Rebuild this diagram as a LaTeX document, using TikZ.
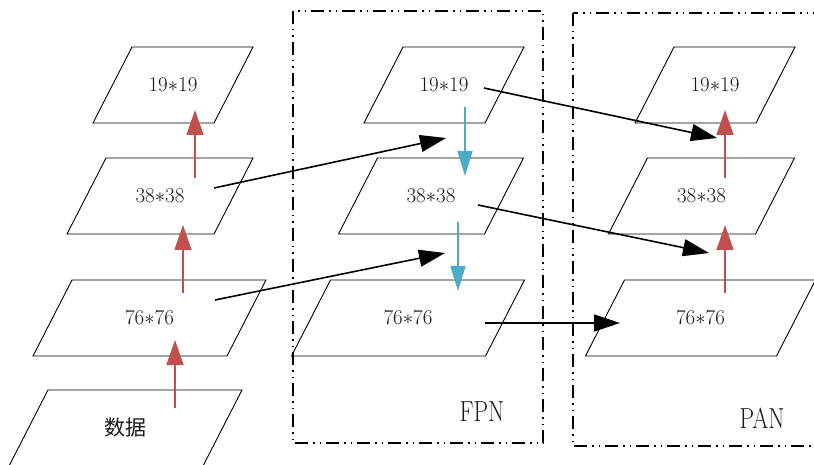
\documentclass[tikz,border=0pt]{standalone}
\usepackage{fontspec}
\usetikzlibrary{arrows.meta,calc}
\newfontfamily\cjk{Noto Sans CJK SC}
\definecolor{redarr}{HTML}{C0504D}
\definecolor{bluearr}{HTML}{4BACC6}
\tikzset{
  lbl/.style={inner sep=0pt,font=\fontsize{21}{24}\selectfont,text=black!90},
  plgline/.style={draw=black,line width=0.9pt},
  redc/.style={draw=redarr,line width=1.6pt,-{Triangle[length=25pt,width=17pt]}},
  bluec/.style={draw=bluearr,line width=1.6pt,-{Triangle[length=25pt,width=15pt]}},
  blackc/.style={draw=black,line width=1.6pt,-{Triangle[length=26pt,width=17pt]}},
  boxline/.style={draw=black,line width=1.5pt,dash pattern=on 13pt off 5pt on 1.5pt off 5pt on 1.5pt off 5pt},
  boxlbl/.style={inner sep=0pt,font=\fontsize{29}{32}\selectfont,text=black!90}
}
\newcommand\plg[5]{%
  \node[lbl] (#1) at (#2,#3) {#5};
  \draw[plgline] ($(#1)+(-#4/2+19.5,-38)$) -- ++(#4,0) -- ++(-39,76) -- ++(-#4,0) -- cycle;
}
\newcommand\mul{{$\ast$}}
\begin{document}
\begin{tikzpicture}[x=1pt,y=-1pt]
\useasboundingbox (0,0) rectangle (814,465);
% dashed boxes
\draw[boxline] (293,11) rectangle (543,443);
\draw[boxline] (573,13) rectangle (840,446);
\node[boxlbl] (fpn) at (482,412) {\scalebox{0.8}[1]{FPN}};
\node[boxlbl] (pan) at (762,418) {\scalebox{0.8}[1]{PAN}};
% left column
\plg{L4}{125.5}{428}{194}{\cjk 数据}
\plg{L3}{149.5}{318}{194}{76\mul76}
\plg{L2}{160}{196}{147}{38\mul38}
\plg{L1}{173}{85}{121}{19\mul19}
% FPN column
\plg{M1}{444}{85}{121}{19\mul19}
\plg{M2}{431}{196}{146}{38\mul38}
\plg{M3}{408}{318}{194}{76\mul76}
% PAN column
\plg{R1}{715}{85}{121}{19\mul19}
\plg{R2}{701.5}{196}{147}{38\mul38}
\plg{R3}{700.5}{318}{191}{76\mul76}
% red arrows
\draw[redc] ($(L4)+(49.5,-20)$) -- ($(L3)+(25.5,22)$);
\draw[redc] ($(L3)+(33.5,-25)$) -- ($(L2)+(23,29)$);
\draw[redc] ($(L2)+(35,-18)$) -- ($(L1)+(22,25)$);
\draw[redc] ($(R3)+(24.5,-25)$) -- ($(R2)+(23.5,29)$);
\draw[redc] ($(R2)+(23.5,-18)$) -- ($(R1)+(10,25)$);
% blue arrows
\draw[bluec] ($(M1)+(21,22)$) -- ($(M2)+(34,-20)$);
\draw[bluec] ($(M2)+(27,26)$) -- ($(M3)+(50,-27)$);
% black arrows
\draw[blackc] ($(L2)+(54,-8)$) -- ($(M1)+(2,53)$);
\draw[blackc] ($(L3)+(65.5,-18)$) -- ($(M2)+(14,57)$);
\draw[blackc] ($(M1)+(40,3)$) -- ($(R1)+(2,53)$);
\draw[blackc] ($(M2)+(47,9)$) -- ($(R2)+(7.5,57)$);
\draw[blackc] ($(M3)+(77,5)$) -- ($(R3)+(-80.5,5)$);
\end{tikzpicture}
\end{document}
